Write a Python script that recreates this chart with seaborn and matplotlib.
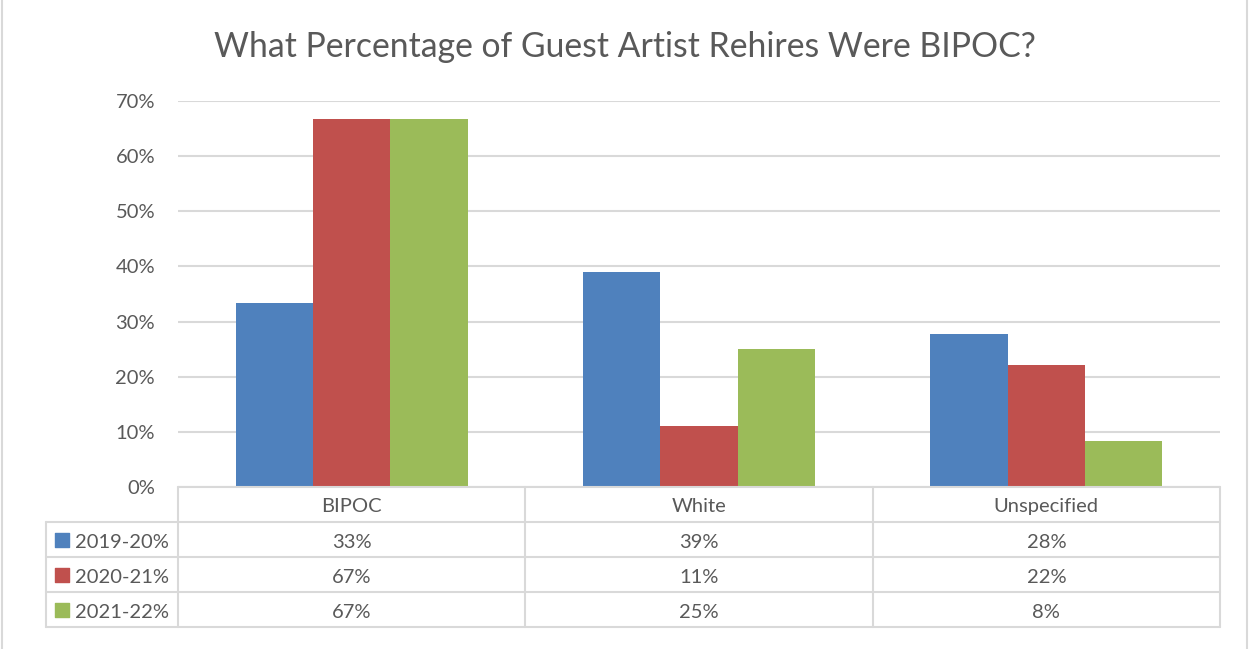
import numpy as np
import pandas as pd
import matplotlib
matplotlib.use('Agg')
import matplotlib.pyplot as plt
import seaborn as sns

categories = ['BIPOC', 'White', 'Unspecified']
series = ['2019-20%', '2020-21%', '2021-22%']
vals_2019 = [33.3, 38.9, 27.8]
vals_2020 = [66.7, 11.1, 22.2]
vals_2021 = [66.7, 25.0, 8.3]
labels_2019 = ['33%', '39%', '28%']
labels_2020 = ['67%', '11%', '22%']
labels_2021 = ['67%', '25%', '8%']
colors = ['#4F81BD', '#C0504D', '#9BBB59']

df = pd.DataFrame({
    'category': categories * 3,
    'series': [s for s in series for _ in categories],
    'value': vals_2019 + vals_2020 + vals_2021,
})
table_labels = [labels_2019, labels_2020, labels_2021]

sns.set_theme(style='white')
plt.rcParams['font.family'] = ['Lato', 'DejaVu Sans']
txt = '#595959'
grid = '#D9D9D9'
fs = 14.5

W, H = 1249, 649
fig = plt.figure(figsize=(W / 100, H / 100), dpi=100)
fig.patch.set_facecolor('white')

def px(x0, y0, x1, y1):
    return [x0 / W, 1 - y1 / H, (x1 - x0) / W, (y1 - y0) / H]

ax = fig.add_axes(px(178, 101, 1220, 487))
sns.barplot(data=df, x='category', y='value', hue='series', palette=colors,
            width=0.667, saturation=1, ax=ax, legend=False, linewidth=0)
ax.set_xlim(-0.5, 2.5)
ax.set_ylim(0, 70)
ax.set_yticks(np.arange(0, 71, 10))
ax.set_yticklabels([f'{v}%' for v in range(0, 71, 10)], color=txt, fontsize=fs)
ax.tick_params(axis='y', length=0, pad=16.5)
ax.set_xticks([])
ax.set_xlabel('')
ax.set_ylabel('')
ax.grid(axis='y', color=grid, linewidth=1.5)
ax.set_axisbelow(True)
for s in ax.spines.values():
    s.set_visible(False)

# data table below the plot
tx = fig.add_axes(px(178, 487, 1220, 627))
tx.set_xlim(-0.5, 2.5)
tx.set_ylim(4, 0)
tx.axis('off')
left = -0.5 - 132 / 347
lk = dict(color=grid, linewidth=1.5, clip_on=False)
tx.plot([-0.5, 2.5], [0, 0], **lk)
for r in [1, 2, 3, 4]:
    tx.plot([left, 2.5], [r, r], **lk)
for c in [-0.5, 0.5, 1.5, 2.5]:
    tx.plot([c, c], [0, 4], **lk)
tx.plot([left, left], [1, 4], **lk)

for i, cat in enumerate(categories):
    tx.text(i, 0.55, cat, ha='center', va='center', color=txt, fontsize=fs)
for r, (name, labs) in enumerate(zip(series, table_labels)):
    y = r + 1.58
    tx.scatter([left + 0.045], [r + 1.5], marker='s', s=110, color=colors[r], clip_on=False)
    tx.text(left + 0.085, y, name, ha='left', va='center', color=txt, fontsize=fs)
    for i, lab in enumerate(labs):
        tx.text(i, y, lab, ha='center', va='center', color=txt, fontsize=fs)

fig.text(625 / W, 1 - 47 / H, 'What Percentage of Guest Artist Rehires Were BIPOC?',
         ha='center', va='center', color=txt, fontsize=24.3)

fig.add_artist(plt.Line2D([2 / W, 2 / W], [0, 1], color=grid, linewidth=1.5))
fig.add_artist(plt.Line2D([1247 / W, 1247 / W], [0, 1], color=grid, linewidth=1.5))

fig.savefig('out.png', dpi=100, facecolor='white')
